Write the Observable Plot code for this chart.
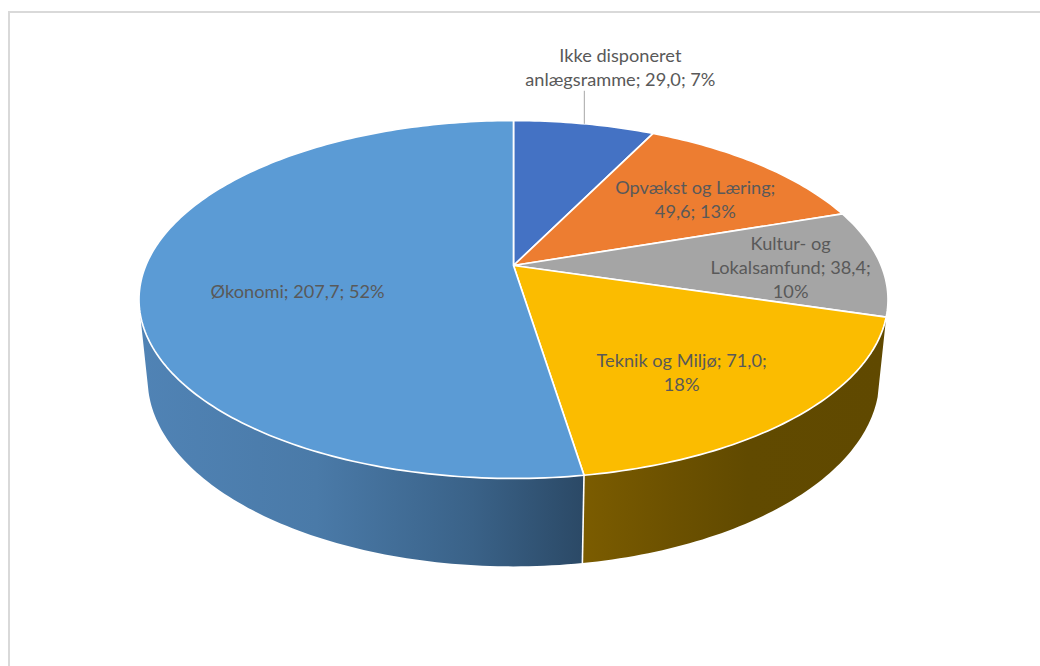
<!DOCTYPE html>
<html lang="da">
<head>
<meta charset="utf-8">
<script src="https://cdn.jsdelivr.net/npm/d3@7"></script>
<script src="https://cdn.jsdelivr.net/npm/@observablehq/plot@0.6"></script>
<style>
html,body{margin:0;padding:0;background:#fff;overflow:hidden;width:1040px;height:666px}
#frame{position:absolute;left:8px;top:11px;width:2000px;height:2000px;border:2px solid #d9d9d9}
#chart{position:absolute;left:0;top:0}
#chart svg{display:block}
</style>
</head>
<body>
<div id="frame"></div>
<div id="chart"></div>
<script>
// Data
const categories = ["Ikke disponeret anlægsramme","Opvækst og Læring","Kultur- og Lokalsamfund","Teknik og Miljø","Økonomi"];
const values = [29.0, 49.6, 38.4, 71.0, 207.7];
const labels = [
  "Ikke disponeret\nanlægsramme; 29,0; 7%",
  "Opvækst og Læring;\n49,6; 13%",
  "Kultur- og\nLokalsamfund; 38,4;\n10%",
  "Teknik og Miljø; 71,0;\n18%",
  "Økonomi; 207,7; 52%"
];
const colors = ["#4472c4","#ed7d31","#a5a5a5","#fbbc00","#5b9bd5"];

// Style and layout
const wallGradients = [
  {slice: 3, from: .19, to: 1.0, stops: [[0, "#7b5c00"], [.3, "#6c5100"], [.55, "#614a00"], [1, "#604900"]]},
  {slice: 4, from: -1.02, to: .19, stops: [[0, "#5083b5"], [.4, "#4a7aa8"], [.75, "#3a6288"], [1, "#2b4966"]]}
];
const labelRadius = [1, .6, .6, .6, .6];
const labelDx = [36, 27, 57, 9, 6];
const labelDy = [-57, -4, 3, 21, 17];
const wallEndDegrees = 255; // the wall of the last slice is hidden behind the disc after this

// Perspective of the disc
const tilt = .19, lowerX = .977, lowerY = 1.05, drop = .448, Rx = 367.7, Ry = 172.5, cx = 513, cy = 265;
function project(a, r = 1, lower = false) {
  const u = r * Math.sin(a), v = r * Math.cos(a), w = 1 + tilt * v;
  return lower ? {X: lowerX * u / w, Y: lowerY * v / w - drop} : {X: u / w, Y: v / w};
}
const total = d3.sum(values);
const cum = d3.cumsum(values);
const deg = Math.PI / 180;
const slices = values.map((d, i) => ({
  i, name: categories[i], label: labels[i], color: colors[i],
  a0: (i ? cum[i - 1] : 0) / total * 2 * Math.PI,
  a1: cum[i] / total * 2 * Math.PI
}));
slices.forEach(s => s.mid = (s.a0 + s.a1) / 2);

function arcAngles(a0, a1) {
  const n = Math.max(2, Math.ceil((a1 - a0) / deg));
  return d3.range(n + 1).map(k => a0 + (a1 - a0) * k / n);
}
const topPoints = slices.flatMap(s => [
  {...project(0, 0), i: s.i, color: s.color},
  ...arcAngles(s.a0, s.a1).map(a => ({...project(a), i: s.i, color: s.color})),
  {...project(0, 0), i: s.i, color: s.color}
]);

function wallPoints(s) {
  const as = arcAngles(s.a0, Math.min(s.a1, wallEndDegrees * deg));
  return [...as.map(a => project(a)), ...as.slice().reverse().map(a => project(a, 1, true)), project(as[0])];
}

const seam = slices[3].a1;
const seamTop = project(seam), seamLow = project(seam, 1, true);
const leaderTop = project(slices[0].mid);

// Gradients for the walls, placed through the x scale
function wallDefs(index, {x}) {
  const defs = d3.create("svg:defs");
  for (const g of wallGradients) {
    const lg = defs.append("linearGradient").attr("id", "wall" + g.slice)
      .attr("gradientUnits", "userSpaceOnUse")
      .attr("x1", x(g.from)).attr("x2", x(g.to)).attr("y1", 0).attr("y2", 0);
    for (const [o, c] of g.stops) lg.append("stop").attr("offset", o).attr("stop-color", c);
  }
  return defs.node();
}

const plot = Plot.plot({
  width: 1040, height: 666,
  marginLeft: 0, marginRight: 0, marginTop: 0, marginBottom: 0,
  style: {background: "transparent"},
  x: {domain: [-cx / Rx, (1040 - cx) / Rx], range: [0, 1040], axis: null},
  y: {domain: [(cy - 666) / Ry, cy / Ry], range: [666, 0], axis: null},
  marks: [
    wallDefs,
    ...wallGradients.map(g => Plot.line(wallPoints(slices[g.slice]), {x: "X", y: "Y",
      fill: `url(#wall${g.slice})`, stroke: "none", curve: "linear"})),
    Plot.link([{x1: seamTop.X, y1: seamTop.Y, x2: seamLow.X, y2: seamLow.Y}],
      {x1: "x1", y1: "y1", x2: "x2", y2: "y2", stroke: "white", strokeWidth: 1.6}),
    Plot.line(topPoints, {x: "X", y: "Y", z: "i",
      fill: {value: "color", scale: null}, stroke: "white", strokeWidth: 1.7,
      strokeLinejoin: "round", curve: "linear"}),
    Plot.link([{x: leaderTop.X, y1: leaderTop.Y, y2: leaderTop.Y + 33 / Ry}],
      {x1: "x", x2: "x", y1: "y1", y2: "y2", stroke: "#a6a6a6", strokeWidth: 1}),
    ...slices.map((s, i) => Plot.text([{...project(s.mid, labelRadius[i]), label: s.label}], {
      x: "X", y: "Y", text: "label", dx: labelDx[i], dy: labelDy[i],
      fontFamily: "Lato", fontSize: 18.2, lineHeight: 1.31,
      fill: "#595959", textAnchor: "middle", lineAnchor: "middle"}))
  ]
});
document.getElementById("chart").append(plot);
</script>
</body>
</html>
